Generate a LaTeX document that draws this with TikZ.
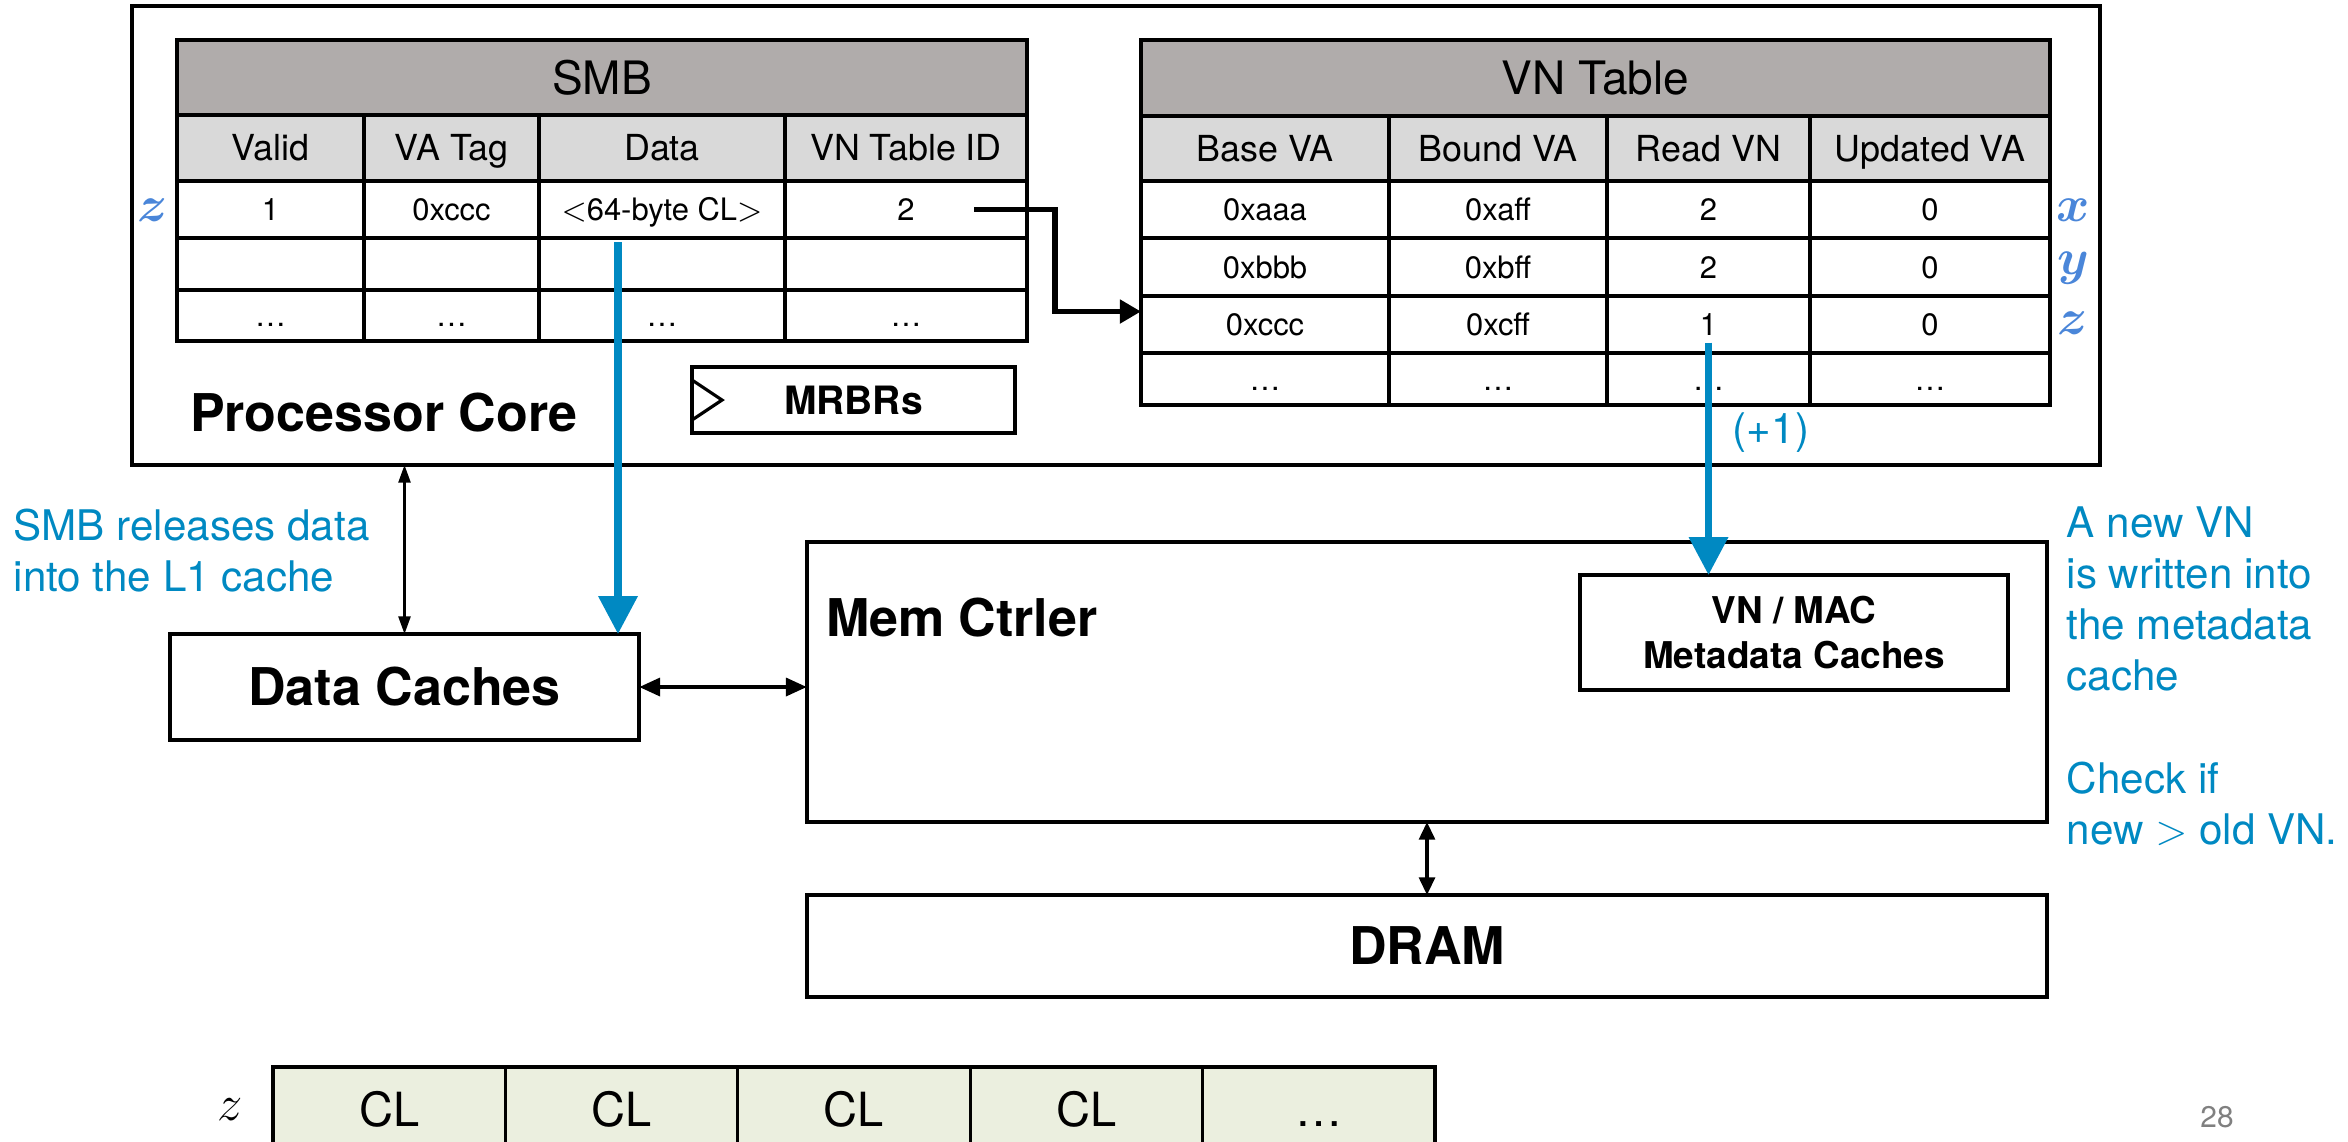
\documentclass[tikz,border=0pt]{standalone}
\usepackage{amsmath}
\usepackage{fontspec}
\setmainfont{TeX Gyre Heros}
\usetikzlibrary{arrows.meta,calc}
\definecolor{smbgray}{RGB}{176,172,171}
\definecolor{headgray}{RGB}{217,217,217}
\definecolor{noteblue}{RGB}{0,137,194}
\definecolor{varblue}{RGB}{74,134,217}
\definecolor{clgreen}{RGB}{235,239,223}
% box from (x1,y1) to (x2,y2): name, style, x1, y1, x2, y2, text
\newcommand{\boxat}[7]{%
 \node[#2,minimum width={((#5)-(#3))*0.1mm},minimum height={((#6)-(#4))*0.1mm}]
  (#1) at ({((#3)+(#5))/2},{((#4)+(#6))/2}) {#7};}

\begin{document}
\begin{tikzpicture}[x=0.1mm,y=-0.1mm,
  tablecell/.style={draw,line width=0.9pt,inner sep=0pt,outer sep=0pt,text depth=0pt},
  titlecell/.style={tablecell,fill=smbgray,font=\fontsize{13.1}{15}\selectfont,text height=9.4pt},
  headcell/.style={tablecell,fill=headgray,font=\fontsize{10.2}{12}\selectfont,text height=7.3pt},
  datacell/.style={tablecell,fill=white,font=\fontsize{8.8}{10}\selectfont,text height=6.3pt},
  unitbox/.style={draw,line width=1.3pt,inner sep=0pt,outer sep=0pt,
    font=\bfseries\fontsize{14.8}{17}\selectfont},
  smallbox/.style={unitbox,font=\bfseries\fontsize{10.5}{12.8}\selectfont,align=center},
  clcell/.style={tablecell,fill=clgreen,font=\fontsize{13.4}{15}\selectfont,text height=9.6pt},
  note/.style={text=noteblue,font=\fontsize{12}{14.5}\selectfont,align=left,inner sep=0pt},
  varlabel/.style={text=varblue,font=\fontsize{15}{17}\selectfont,inner sep=0pt},
  link/.style={line width=1.6pt,-{Triangle[length=6pt,width=6.5pt]}},
  release/.style={noteblue,line width=2pt,-{Triangle[length=10.8pt,width=10.8pt]}},
  bus/.style={line width=0.7pt,{Triangle[length=5pt,width=3.4pt]}-{Triangle[length=5pt,width=3.4pt]}}]
 \useasboundingbox (0,0) rectangle (2348,1141);
 % processor core
 \boxat{core}{unitbox}{132}{6}{2100}{465}{}
 \node[unitbox,draw=none,anchor=west] (corelabel) at (190,413) {Processor Core};
 % SMB
 \boxat{smbtitle}{titlecell}{177}{40}{1027}{115}{SMB}
 \foreach \xa/\xb/\t [count=\j] in {177/364/Valid,364/539/VA Tag,539/785/Data,785/1027/VN Table ID}
 {\boxat{smbh\j}{headcell}{\xa}{115}{\xb}{181}{\t}}
 \foreach \xa/\xb/\t [count=\j] in {177/364/1,364/539/0xccc,539/785/{$<$64-byte CL$>$},785/1027/2}
 {\boxat{smbz\j}{datacell}{\xa}{181}{\xb}{238}{\t}}
 \foreach \xa/\xb [count=\j] in {177/364,364/539,539/785,785/1027}
 {\boxat{smbe\j}{datacell}{\xa}{238}{\xb}{290}{}
  \boxat{smbd\j}{datacell}{\xa}{290}{\xb}{341}{\ldots}}
 % VN table
 \boxat{vntitle}{titlecell}{1141}{40}{2050}{116}{VN Table}
 \foreach \xa/\xb/\t [count=\j] in {1141/1389/Base VA,1389/1607/Bound VA,1607/1810/Read VN,1810/2050/Updated VA}
 {\boxat{vnh\j}{headcell}{\xa}{116}{\xb}{181}{\t}}
 \foreach \xa/\xb/\va/\vb/\vc [count=\j] in {1141/1389/0xaaa/0xbbb/0xccc,1389/1607/0xaff/0xbff/0xcff,1607/1810/2/2/1,1810/2050/0/0/0}
 {\boxat{vnx\j}{datacell}{\xa}{181}{\xb}{238}{\va}
  \boxat{vny\j}{datacell}{\xa}{238}{\xb}{296}{\vb}
  \boxat{vnz\j}{datacell}{\xa}{296}{\xb}{353}{\vc}
  \boxat{vnd\j}{datacell}{\xa}{353}{\xb}{405}{\ldots}}
 % row names
 \node[varlabel] (smbvar) at (153,210) {$\boldsymbol{z}$};
 \node[varlabel] (varx) at (2073,210) {$\boldsymbol{x}$};
 \node[varlabel] (vary) at (2073,268) {$\boldsymbol{y}$};
 \node[varlabel] (varz) at (2073,323) {$\boldsymbol{z}$};
 % MRBRs
 \boxat{mrbr}{unitbox}{692}{367}{1015}{433}{\fontsize{11.1}{13}\selectfont MRBRs}
 \draw[line width=0.9pt] ($(mrbr.west)+(0,-20)$) -- ($(mrbr.west)+(30,0)$)
   -- ($(mrbr.west)+(0,20)$);
 % caches, controller, DRAM
 \boxat{caches}{unitbox}{170}{634}{639}{740}{Data Caches}
 \boxat{mem}{unitbox}{807}{542}{2047}{822}{}
 \node[unitbox,draw=none,anchor=west] (memlabel) at (826,618) {Mem Ctrler};
 \boxat{vnmac}{smallbox}{1580}{575}{2008}{690}{VN / MAC\\Metadata Caches}
 \boxat{dram}{unitbox}{807}{895}{2047}{997}{DRAM}
 % buses
 \draw[bus] (core.south -| caches.north) -- (caches.north);
 \draw[bus,line width=1.3pt,{Triangle[length=6pt,width=5pt]}-{Triangle[length=6pt,width=5pt]}]
   (caches.east) -- (caches.east -| mem.west);
 \draw[bus,line width=0.9pt,{Triangle[length=5pt,width=4.5pt]}-{Triangle[length=5pt,width=4.5pt]}]
   (mem.south) -- (mem.south |- dram.north);
 % SMB entry points to its VN table row
 \draw[link] ($(smbz4.center)+(68,0)$) -- ++(81,0) |- ($(vnz1.west)+(0,-13)$);
 % data released into L1, new VN into metadata cache
 \path ($(smbz3.south)+(-44,4)$) coordinate (datadrop)
   ($(vnz3.center)+(0,18)$) coordinate (vnup);
 \draw[release] (datadrop) -- (datadrop |- caches.north);
 \draw[release] (vnup) -- (vnup |- vnmac.north);
 \node[note] (plusone) at (1771,433) {(+1)};
 \node[note,anchor=north west] (smbnote) at (13,508) {SMB releases data\\into the L1 cache};
 \node[note,anchor=north west] (vnnote) at (2066,506) {A new VN\\is written into\\the metadata\\cache};
 \node[note,anchor=north west] (checknote) at (2066,761) {Check if\\new $>$ old VN.};
 % cache lines of z
 \node[inner sep=0pt,font=\fontsize{15}{17}\selectfont] (clvar) at (230,1110) {$z$};
 \foreach \t [count=\j] in {CL,CL,CL,CL,\ldots}
 {\boxat{cl\j}{clcell}{273+(\j-1)*232.4}{1067}{273+\j*232.4}{1153}{\t}}
 \node[text=gray,font=\fontsize{8.5}{10}\selectfont] (pagenum) at (2217,1117) {28};
\end{tikzpicture}
\end{document}
